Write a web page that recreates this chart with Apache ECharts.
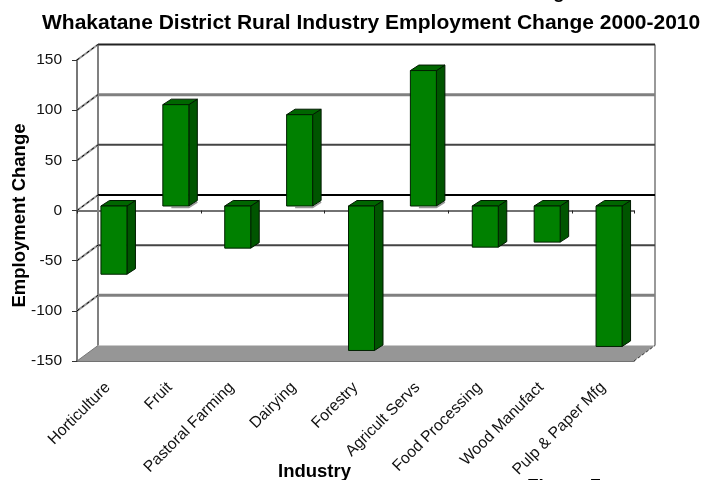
<!DOCTYPE html>
<html>
<head>
<meta charset="utf-8">
<style>html,body{margin:0;padding:0;background:#fff}#c{width:706px;height:480px}</style>
<script src="https://cdn.jsdelivr.net/npm/echarts@6/dist/echarts.min.js"></script>
</head>
<body>
<div id="c"></div>
<script>
const categories = ['Horticulture','Fruit','Pastoral Farming','Dairying','Forestry','Agricult Servs','Food Processing','Wood Manufact','Pulp & Paper Mfg'];
const employmentChange = [-68, 101, -42, 91, -144, 135, -41, -36, -140];
const yTicks = [-150,-100,-50,0,50,100,150];
const wallLineColors = ['#555555','#808080','#444444','#000000','#444444','#808080','#222222'];
const wallLineWidths = [2,3,2,2,2,3,2];

const DX = 21, DY = -15.5;
const BAR_DX = 6, BAR_DY = -4.5, BAR_W = 26, SIDE_X = 8.5, SIDE_Y = -5.5;
const FONT = '"Liberation Sans", Arial, sans-serif';

function poly(points, fill, stroke, lw, z2) {
  return { type:'polygon', shape:{points}, z2:z2||0, style:{fill, stroke:stroke||null, lineWidth:lw||0} };
}
function line(pts, stroke, lw, dash) {
  return { type:'polyline', shape:{points:pts}, style:{fill:null, stroke, lineWidth:lw, lineDash:dash||null} };
}

function renderWalls(params, api) {
  const r = params.coordSys;
  const x0=r.x, x1=r.x+r.width, yb=r.y+r.height, yt=r.y;
  return { type:'group', children:[
    poly([[x0,yb],[x1,yb],[x1+DX,yb+DY],[x0+DX,yb+DY]], '#969696'),
    line([[x0+DX,yt+DY],[x0+DX,yb+DY]], '#808080', 2),
    line([[x1+DX,yt+DY],[x1+DX,yb+DY]], '#999999', 2),
    line([[x1,yb],[x1+DX,yb+DY]], '#333333', 1, [3,2]),
    line([[x0,yb],[x0+DX,yb+DY]], '#777777', 1)
  ]};
}

function renderWallLine(params, api) {
  const r = params.coordSys;
  const i = params.dataIndex;
  const v = api.value(0);
  const y = api.coord([0, v])[1];
  const x0=r.x, x1=r.x+r.width;
  const kids = [];
  if (v !== -150) {
    kids.push(line([[x0+DX,y+DY],[x1+DX,y+DY]], wallLineColors[i], wallLineWidths[i]));
    kids.push(line([[x0,y],[x0+DX,y+DY]], '#999999', 2));
    kids.push(line([[x0,y],[x0+DX,y+DY]], '#000000', 1, [3,3]));
  }
  return { type:'group', children:kids };
}

function renderBar(params, api) {
  const c = api.coord([api.value(0), api.value(1)]);
  const z = api.coord([api.value(0), 0]);
  const xl = c[0]+BAR_DX-BAR_W/2, xr = xl+BAR_W;
  const y0 = z[1]+BAR_DY, yv = c[1]+BAR_DY;
  const top = Math.min(y0,yv), bot = Math.max(y0,yv);
  const kids = [];
  if (api.value(1) > 0) {
    kids.push(line([[xl+SIDE_X,bot+1.5],[xr,bot+1.5],[xr+SIDE_X,bot+SIDE_Y+1.5]], '#999999', 1.5));
  }
  kids.push(poly([[xr,top],[xr+SIDE_X,top+SIDE_Y],[xr+SIDE_X,bot+SIDE_Y],[xr,bot]], '#005500', '#001a00', 1));
  kids.push(poly([[xl,top],[xl+SIDE_X,top+SIDE_Y],[xr+SIDE_X,top+SIDE_Y],[xr,top]], '#006600', '#001a00', 1));
  kids.push(poly([[xl,top],[xr,top],[xr,bot],[xl,bot]], '#008000', '#002000', 1));
  return { type:'group', children:kids };
}

const chart = echarts.init(document.getElementById('c'), null, {renderer:'canvas'});
chart.setOption({
  animation:false,
  backgroundColor:'#ffffff',
  textStyle:{fontFamily:FONT},
  title:{
    text:'Whakatane District Rural Industry Employment Change 2000-2010',
    left:37, top:8,
    textStyle:{fontFamily:FONT, fontWeight:'bold', fontSize:21, color:'#000'}
  },
  grid:{left:77, right:72, top:60, bottom:119, containLabel:false, outerBoundsMode:'none'},
  xAxis:[
    { type:'category', data:categories, position:'bottom',
      axisLine:{onZero:false, lineStyle:{color:'#444444', width:1.5}},
      axisTick:{show:false},
      axisLabel:{rotate:45, interval:0, margin:24, fontSize:15.8, color:'#111', fontFamily:FONT},
      name:'Industry', nameLocation:'middle', nameGap:101, nameMoveOverlap:false,
      nameTextStyle:{fontFamily:FONT, fontWeight:'bold', fontSize:18.5, color:'#000', padding:[0,82,0,0]},
      splitLine:{show:false}
    },
    { type:'category', data:categories, position:'bottom',
      axisLine:{onZero:true, lineStyle:{color:'#444444', width:1.5}},
      axisTick:{show:true, alignWithLabel:false, length:3, lineStyle:{color:'#222', width:1}},
      axisLabel:{show:false}, splitLine:{show:false}
    }
  ],
  yAxis:{
    type:'value', min:-150, max:150, interval:50,
    axisLine:{show:true, onZero:false, lineStyle:{color:'#777777', width:2}},
    axisTick:{show:true, length:5, lineStyle:{color:'#333', width:1}},
    axisLabel:{fontSize:15.5, color:'#111', margin:15, fontFamily:FONT, padding:[2,0,0,0]},
    splitLine:{show:false},
    name:'Employment Change', nameLocation:'middle', nameGap:48, nameRotate:90, nameMoveOverlap:false,
    nameTextStyle:{fontFamily:FONT, fontWeight:'bold', fontSize:18.5, color:'#000', padding:[0,10,0,0]}
  },
  series:[
    { type:'custom', name:'walls', renderItem:renderWalls, data:[[0]], silent:true, z:1, clip:false },
    { type:'custom', name:'wall lines', renderItem:renderWallLine, data:yTicks.map(v=>[v]), encode:{y:0}, silent:true, z:2, clip:false },
    { type:'custom', name:'Employment Change', renderItem:renderBar,
      data:employmentChange.map((v,i)=>[i,v]), encode:{x:0,y:1}, z:5, clip:false }
  ],
  graphic:[
    { type:'text', left:536, top:-17, z:10, style:{text:'Figure 7', font:'bold 19px '+FONT, fill:'#000'} },
    { type:'text', left:527, top:477, z:10, style:{text:'Figure 7', font:'bold 19px '+FONT, fill:'#000'} }
  ]
});
</script>
</body>
</html>
